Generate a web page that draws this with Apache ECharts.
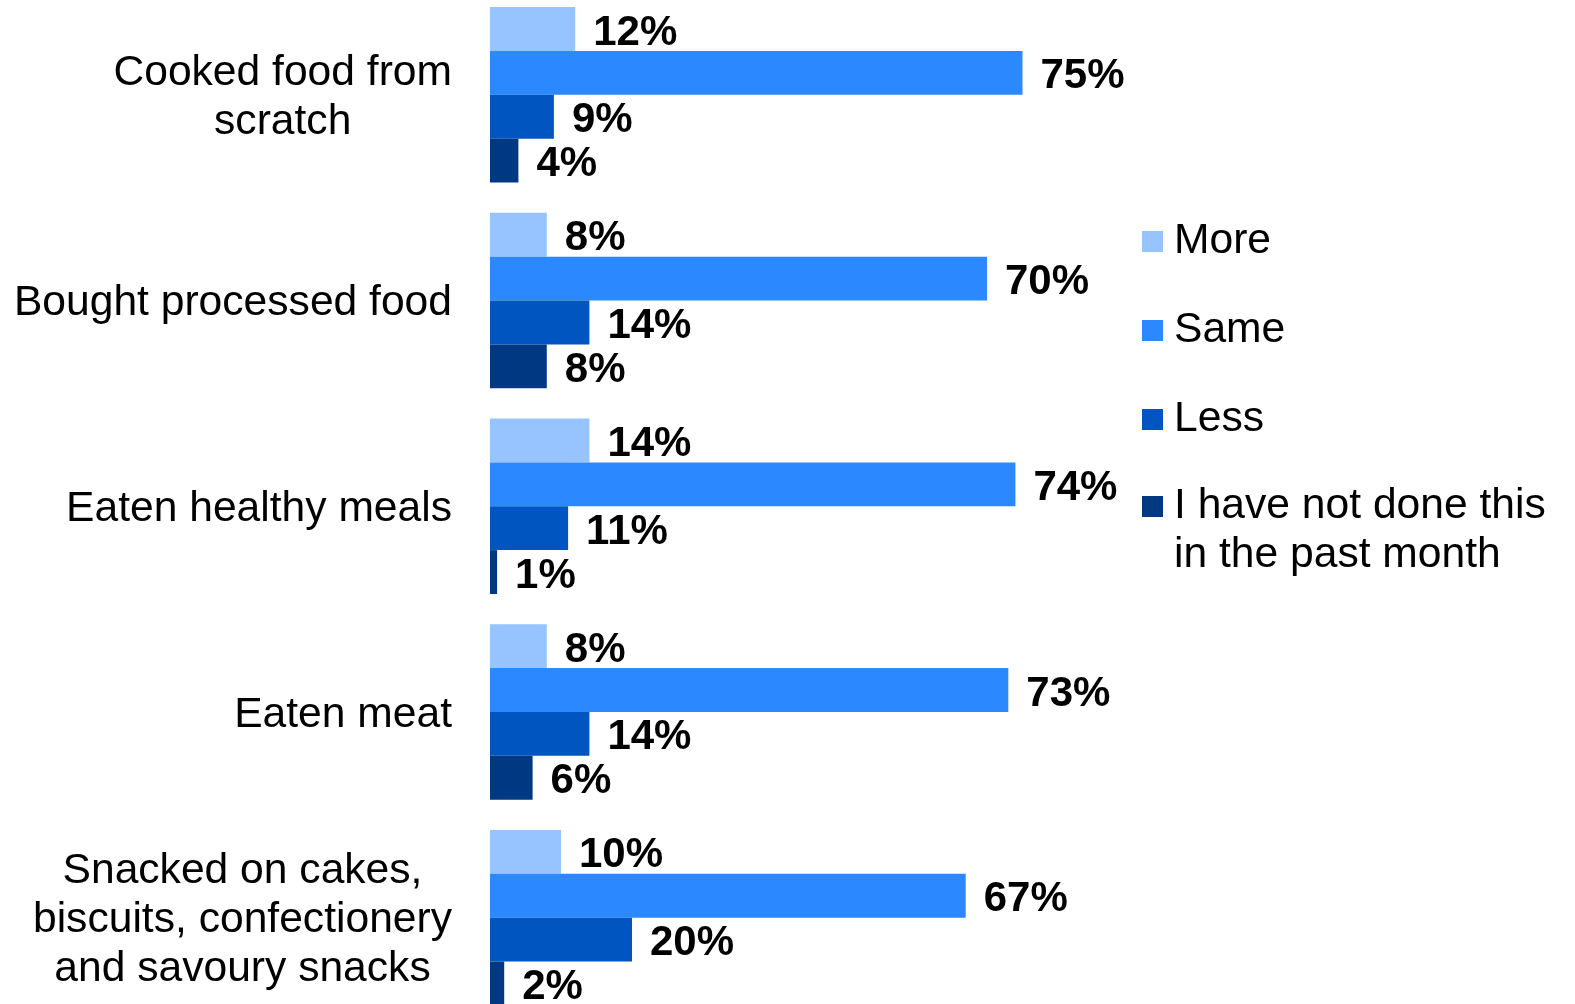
<!DOCTYPE html>
<html>
<head>
<meta charset="utf-8">
<script src="https://cdn.jsdelivr.net/npm/echarts@6/dist/echarts.min.js"></script>
<style>
html,body{margin:0;padding:0;background:#fff;}
#chart{width:1575px;height:1004px;}
</style>
</head>
<body>
<div id="chart"></div>
<script>
const categories = [
  "Cooked food from\nscratch",
  "Bought processed food",
  "Eaten healthy meals",
  "Eaten meat",
  "Snacked on cakes,\nbiscuits, confectionery\nand savoury snacks"
];
const seriesNames = ["More", "Same", "Less", "I have not done this\nin the past month"];
const moreValues = [12, 8, 14, 8, 10];
const sameValues = [75, 70, 74, 73, 67];
const lessValues = [9, 14, 11, 14, 20];
const notDoneValues = [4, 8, 1, 6, 2];

const colors = ["#97C3FF", "#2B88FF", "#0055C0", "#003882"];
const FONT = "'Liberation Sans', Arial, sans-serif";
const FS = 42.6;

const chart = echarts.init(document.getElementById('chart'));
const allValues = [moreValues, sameValues, lessValues, notDoneValues];

const series = allValues.map((vals, i) => ({
  name: seriesNames[i],
  type: 'bar',
  data: vals,
  barGap: '0%',
  barCategoryGap: '14.7%',
  itemStyle: { color: colors[i] },
  label: {
    show: true,
    position: 'right',
    distance: 18,
    offset: [0, 4],
    formatter: '{c}%',
    color: '#000',
    fontFamily: FONT,
    fontWeight: 'bold',
    fontSize: 42
  }
}));

const legendText = {
  color: '#000',
  fontFamily: FONT,
  fontSize: FS,
  lineHeight: 49,
  padding: [0, 0, 0, 6]
};

chart.setOption({
  backgroundColor: '#fff',
  animation: false,
  grid: { left: 490, width: 710, top: -8, height: 1028.5, containLabel: false, outerBoundsMode: 'none' },
  xAxis: {
    type: 'value', min: 0, max: 100, show: false
  },
  yAxis: {
    type: 'category',
    data: categories,
    inverse: true,
    axisLine: { show: false },
    axisTick: { show: false },
    splitLine: { show: false },
    axisLabel: {
      margin: 38,
      color: '#000',
      fontFamily: FONT,
      fontSize: FS,
      lineHeight: 49,
      padding: [6, 0, 0, 0],
      formatter: function (v) {
        return v.split('\n').map(s => '{c|' + s + '}').join('\n');
      },
      rich: {
        c: { align: 'center', color: '#000', fontFamily: FONT, fontSize: FS, lineHeight: 49 }
      }
    }
  },
  legend: [{
    orient: 'vertical',
    left: 1142,
    top: 217,
    padding: 0,
    itemWidth: 21,
    itemHeight: 21,
    itemGap: 40,
    icon: 'rect',
    data: seriesNames.slice(0, 3),
    textStyle: legendText
  }, {
    orient: 'vertical',
    left: 1142,
    top: 433,
    padding: 0,
    itemWidth: 21,
    itemHeight: 21,
    icon: 'rect',
    data: seriesNames.slice(3),
    formatter: function (name) {
      return '{e| }\n' + name.split('\n').map(s => '{t|' + s + '}').join('\n');
    },
    textStyle: Object.assign({}, legendText, {
      rich: {
        e: { fontSize: FS, lineHeight: 49, fontFamily: FONT },
        t: { color: '#000', fontSize: FS, lineHeight: 49, fontFamily: FONT }
      }
    })
  }],
  series: series
});
</script>
</body>
</html>
